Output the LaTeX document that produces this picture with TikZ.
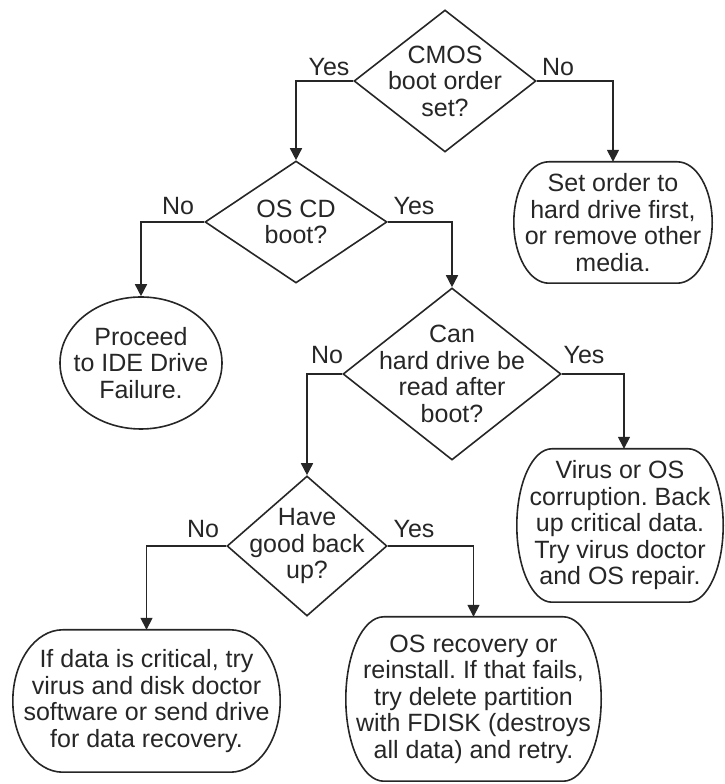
\documentclass[tikz,border=0pt]{standalone}
\usepackage{fontspec}
\setmainfont{Liberation Sans}
\frenchspacing
\usetikzlibrary{shapes.geometric,arrows.meta,calc}
\newcommand{\termshape}[2]{%
  \draw[ln] let \p1=(#1.north west), \p2=(#1.south east), \n1={(\y1-\y2)/2} in
    (\x1+#2,\y1) -- (\x2-#2,\y1)
    arc[start angle=90, end angle=-90, x radius=#2pt, y radius=\n1]
    -- (\x1+#2,\y2)
    arc[start angle=270, end angle=90, x radius=#2pt, y radius=\n1] -- cycle;}
\begin{document}
\begin{tikzpicture}[x=1pt,y=1pt,
  ln/.style={draw=black!85, line width=1.6pt},
  arr/.style={ln, -{Triangle[width=12pt,length=12pt]}},
  dia/.style={diamond, draw=black!85, line width=1.6pt, inner sep=0pt, aspect=1},
  ell/.style={ellipse, draw=black!85, line width=1.6pt, inner sep=0pt},
  txt/.style={align=center, text=black!85, font=\fontsize{25}{26.5}\selectfont, inner sep=0pt},
  lbl/.style={text=black!85, font=\fontsize{25}{26.5}\selectfont, inner sep=0pt, anchor=base},
  box/.style={rectangle, inner sep=0pt, align=center, text=black!85, font=\fontsize{25}{26.5}\selectfont},
]
\useasboundingbox (0,0) rectangle (725,784);

% decisions
\node[dia, minimum width=182, minimum height=142] (d1) at (445,703) {};
\node[txt] (d1t) at (445,703) {CMOS\\boot order\\set?};
\node[dia, minimum width=182, minimum height=122] (d2) at (296,562) {};
\node[txt] (d2t) at (296,562) {OS CD\\boot?};
\node[dia, minimum width=218, minimum height=172] (d3) at (452,410) {};
\node[txt] (d3t) at (452,410) {Can\\hard drive be\\read after\\boot?};
\node[dia, minimum width=160, minimum height=140] (d4) at (307,238) {};
\node[txt] (d4t) at (307,238) {Have\\good back\\up?};

% terminals
\node[box, minimum width=198, minimum height=121] (t1) at (613,561.5)
  {Set order to\\hard drive first,\\or remove other\\media.};
\termshape{t1}{35}
\node[box, minimum width=206, minimum height=153] (t2) at (620,258.5)
  {Virus or OS\\corruption. Back\\up critical data.\\Try virus doctor\\and OS repair.};
\termshape{t2}{35}
\node[box, minimum width=267, minimum height=142] (t3) at (146.5,83)
  {If data is critical, try\\virus and disk doctor\\software or send drive\\for data recovery.};
\termshape{t3}{50}
\node[box, minimum width=255, minimum height=164] (t4) at (473.5,85)
  {OS recovery or\\reinstall. If that fails,\\try delete partition\\with FDISK (destroys\\all data) and retry.};
\termshape{t4}{38}
\node[ell, minimum width=162, minimum height=132] (c1) at (141,421) {};
\node[txt] (c1t) at (141,421) {Proceed\\to IDE Drive\\Failure.};

% connectors
\draw[arr] (d1.west) -| (d2.north);
\draw[arr] (d1.east) -| (t1.north);
\draw[arr] (d2.west) -| (c1.north);
\draw[arr] (d2.east) -| (d3.north);
\draw[arr] (d3.west) -| (d4.north);
\draw[arr] (d3.east) -| ($(t2.north)+(4,0)$);
\draw[arr] (d4.west) -| (t3.north);
\draw[arr] (d4.east) -| (t4.north);

% labels
\node[lbl] (y1) at (329,708) {Yes};
\node[lbl] (n1) at (558,708) {No};
\node[lbl] (n2) at (178,569) {No};
\node[lbl] (y2) at (414,569) {Yes};
\node[lbl] (n3) at (327,420) {No};
\node[lbl] (y3) at (584,420) {Yes};
\node[lbl] (n4) at (203,246) {No};
\node[lbl] (y4) at (414,246) {Yes};
\end{tikzpicture}
\end{document}
